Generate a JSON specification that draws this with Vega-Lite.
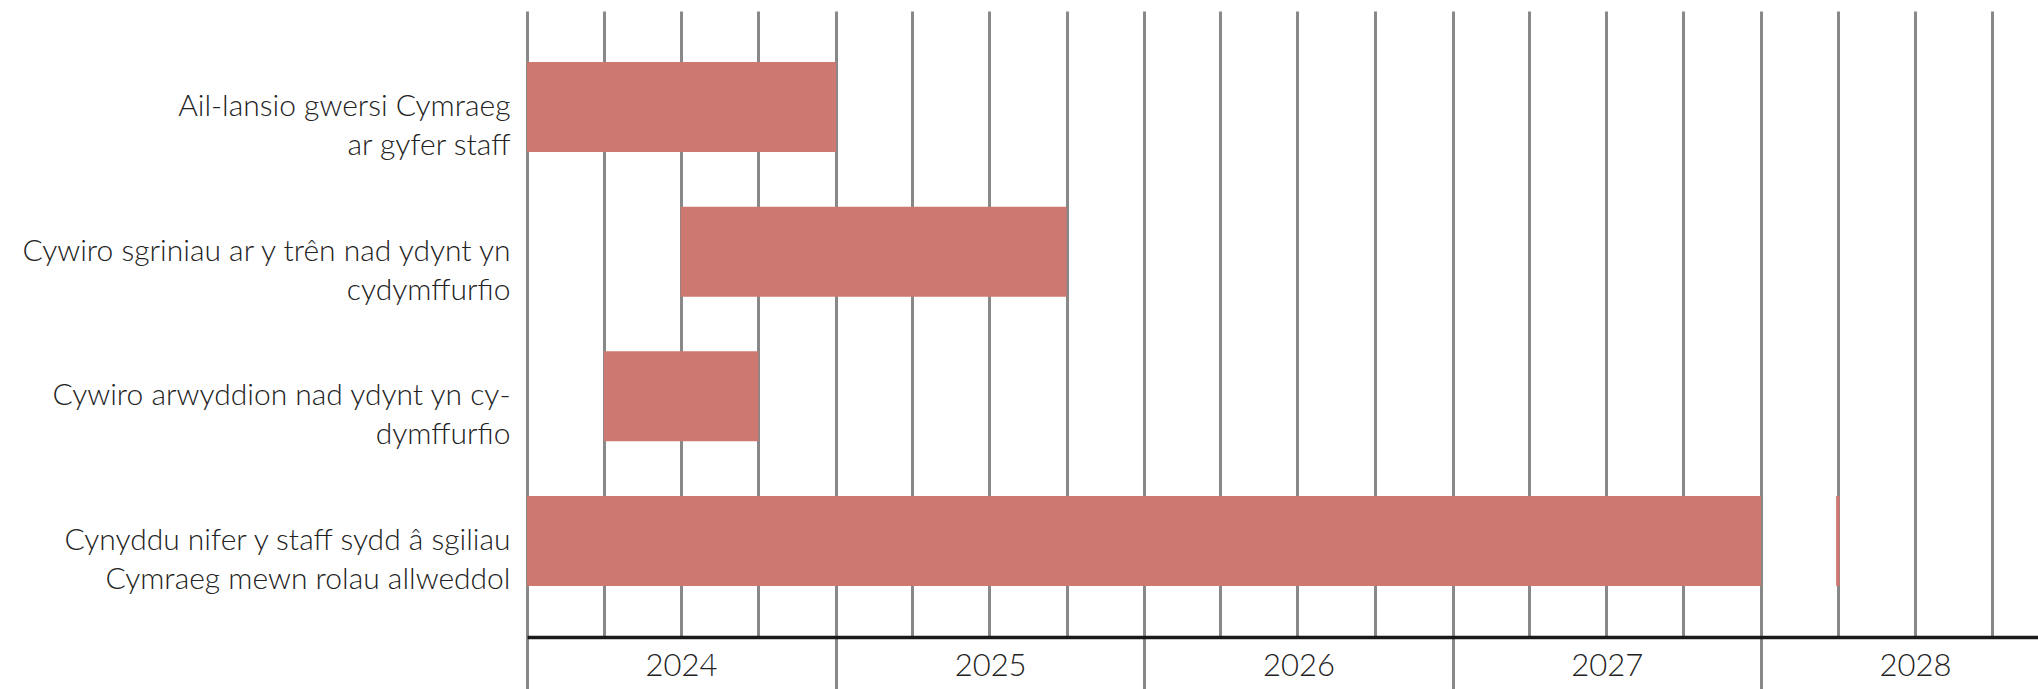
{
  "$schema": "https://vega.github.io/schema/vega-lite/v6.json",
  "autosize": {"type": "none"},
  "padding": {"left": 527, "top": 11, "right": 0, "bottom": 52},
  "width": 1511,
  "height": 626,
  "background": "white",
  "config": {
    "view": {"stroke": null},
    "font": "Lato",
    "scale": {"bandPaddingInner": 0.378, "bandPaddingOuter": 0.3525}
  },
  "data": {
    "values": [
      {"task": "Ail-lansio gwersi Cymraeg|ar gyfer staff", "start": "2024-01-01", "end": "2025-01-01"},
      {"task": "Cywiro sgriniau ar y trên nad ydynt yn|cydymffurfio", "start": "2024-07-01", "end": "2025-10-01"},
      {"task": "Cywiro arwyddion nad ydynt yn cy-|dymffurfio", "start": "2024-04-01", "end": "2024-10-01"},
      {"task": "Cynyddu nifer y staff sydd â sgiliau|Cymraeg mewn rolau allweddol", "start": "2024-01-01", "end": "2028-01-01"},
      {"task": "Cynyddu nifer y staff sydd â sgiliau|Cymraeg mewn rolau allweddol", "start": "2028-03-30", "end": "2028-04-03"}
    ]
  },
  "mark": {"type": "bar", "color": "#cd7870"},
  "encoding": {
    "y": {
      "field": "task",
      "type": "nominal",
      "sort": null,
      "title": null,
      "axis": {
        "domain": false,
        "ticks": false,
        "grid": false,
        "labelExpr": "split(datum.label, '|')",
        "labelFont": "Lato",
        "labelFontWeight": 300,
        "labelFontSize": 30,
        "labelLineHeight": 39,
        "labelColor": "#222222",
        "labelPadding": 17,
        "labelLimit": 700,
        "labelBaseline": "middle",
        "labelAlign": "right"
      }
    },
    "x": {
      "field": "start",
      "type": "temporal",
      "title": null,
      "scale": {
        "type": "utc",
        "domain": [
          {"year": 2024, "month": 1, "date": 1, "utc": true},
          {"year": 2028, "month": 11, "date": 24, "utc": true}
        ]
      },
      "axis": {
        "tickCount": {"interval": "month", "step": 3},
        "grid": true,
        "gridColor": "#888888",
        "gridWidth": 3,
        "gridOpacity": 1,
        "domain": true,
        "domainColor": "#1a1a1a",
        "domainWidth": 3.5,
        "ticks": true,
        "tickSize": 60,
        "tickWidth": 3,
        "tickColor": "#888888",
        "tickOpacity": {"condition": {"test": "utcmonth(datum.value) === 0", "value": 1}, "value": 0},
        "labelExpr": "utcmonth(datum.value) === 0 ? utcFormat(datum.value, '%Y') : ''",
        "labelOverlap": false,
        "labelBound": false,
        "labelFlush": false,
        "labelFont": "Lato",
        "labelFontWeight": 300,
        "labelFontSize": 31,
        "labelColor": "#222222",
        "labelAlign": "center",
        "labelBaseline": "alphabetic",
        "labelOffset": 154,
        "labelPadding": -22
      }
    },
    "x2": {"field": "end"}
  }
}
